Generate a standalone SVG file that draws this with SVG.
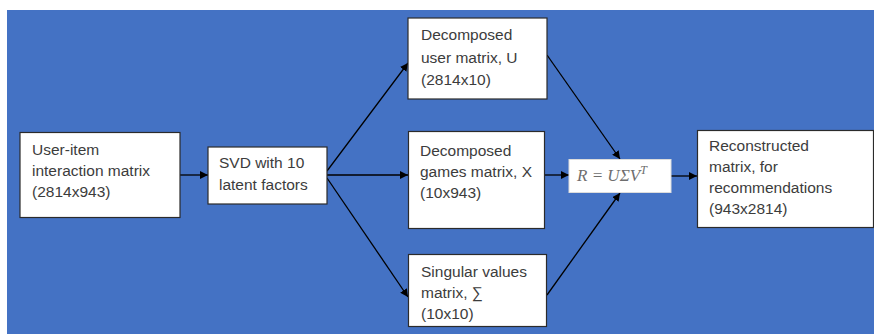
<svg xmlns="http://www.w3.org/2000/svg" width="874" height="334" viewBox="0 0 874 334">
<style>
.box{fill:#fff;stroke:#2b2b2b;stroke-width:1.2}
.t{font-family:"Liberation Sans",Arial,sans-serif;font-size:15.5px;fill:#3c3c3c}
.c{stroke:#000;stroke-width:1.3;fill:none;marker-end:url(#ah)}
.f{font-family:"Liberation Serif","Times New Roman",serif;font-style:italic;font-size:17px;fill:#6e6e6e}
</style>
<defs>
<marker id="ah" viewBox="0 0 10 10" refX="10" refY="5" markerWidth="8" markerHeight="8" markerUnits="userSpaceOnUse" orient="auto">
<path d="M0,0 L10,5 L0,10 z" fill="#000"/>
</marker>
</defs>
<rect x="0" y="0" width="874" height="334" fill="#fff"/>
<rect x="7" y="10" width="867" height="324" fill="#4472C4"/>
<g id="connectors">
<line class="c" x1="180" y1="175" x2="208" y2="175"/>
<line class="c" x1="327" y1="171" x2="408" y2="63"/>
<line class="c" x1="327" y1="175" x2="408" y2="175"/>
<line class="c" x1="327" y1="178" x2="408" y2="297"/>
<line class="c" x1="547" y1="55" x2="620" y2="159"/>
<line class="c" x1="545" y1="175" x2="569" y2="175"/>
<line class="c" x1="547" y1="295" x2="620" y2="193"/>
<line class="c" x1="671" y1="176" x2="697" y2="176"/>
</g>
<g id="user-item">
<rect class="box" x="20" y="132.5" width="160" height="85"/>
<text class="t" x="32" y="155">User-item</text>
<text class="t" x="32" y="176">interaction matrix</text>
<text class="t" x="32" y="197">(2814x943)</text>
</g>
<g id="svd">
<rect class="box" x="208" y="147" width="119" height="57"/>
<text class="t" x="219" y="168">SVD with 10</text>
<text class="t" x="219" y="190">latent factors</text>
</g>
<g id="user-matrix">
<rect class="box" x="408" y="18" width="139" height="81"/>
<text class="t" x="421" y="40">Decomposed</text>
<text class="t" x="421" y="63">user matrix, U</text>
<text class="t" x="421" y="85">(2814x10)</text>
</g>
<g id="games-matrix">
<rect class="box" x="408.5" y="131.5" width="136" height="97"/>
<text class="t" x="420" y="156">Decomposed</text>
<text class="t" x="420" y="177">games matrix, X</text>
<text class="t" x="420" y="198">(10x943)</text>
</g>
<g id="singular">
<rect class="box" x="408.5" y="254.5" width="138" height="72"/>
<text class="t" x="421" y="277">Singular values</text>
<text class="t" x="421" y="298">matrix, ∑</text>
<text class="t" x="421" y="319">(10x10)</text>
</g>
<g id="formula">
<rect x="569" y="159.5" width="102" height="33" fill="#fff" stroke="#dcdcdc" stroke-width="1"/>
<text class="f" x="577" y="181">R = UΣV<tspan font-size="12" dy="-7">T</tspan></text>
</g>
<g id="reconstructed">
<rect class="box" x="697.5" y="130.5" width="176" height="97"/>
<text class="t" x="709" y="151">Reconstructed</text>
<text class="t" x="709" y="172">matrix, for</text>
<text class="t" x="709" y="193">recommendations</text>
<text class="t" x="709" y="214">(943x2814)</text>
</g>
</svg>
